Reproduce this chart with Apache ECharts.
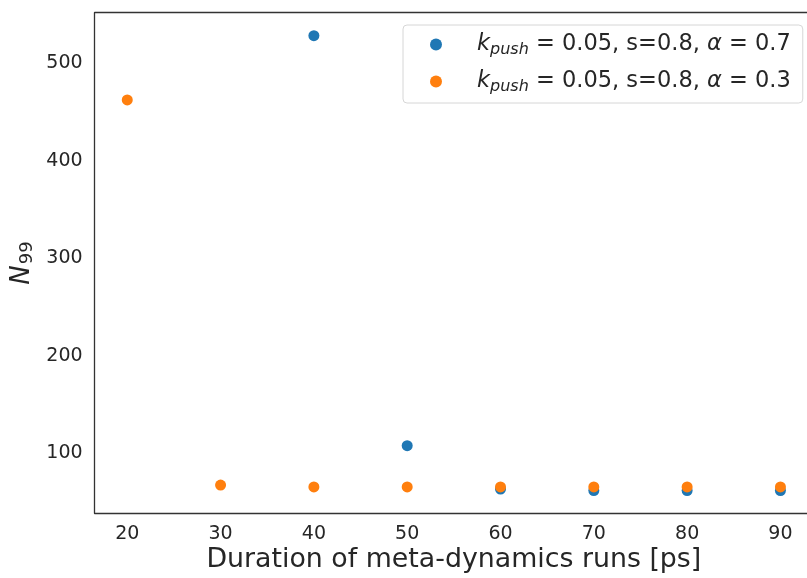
<!DOCTYPE html>
<html>
<head>
<meta charset="utf-8">
<script src="https://cdn.jsdelivr.net/npm/echarts@6/dist/echarts.min.js"></script>
<style>
  html, body { margin: 0; padding: 0; background: #fff; }
  #chart { width: 807px; height: 578px; }
</style>
</head>
<body>
<div id="chart"></div>
<script>
const durations = [20, 30, 40, 50, 60, 70, 80, 90];

// alpha = 0.7 run has no points at 20 and 30 ps
const blueDurations = [40, 50, 60, 70, 80, 90];
const blueN99 = [528.3, 107.8, 63.4, 61.8, 61.8, 61.8];

const orangeN99 = [462.4, 67.5, 65.6, 65.6, 65.6, 65.6, 65.6, 65.6];

const xTicks = [20, 30, 40, 50, 60, 70, 80, 90];
const yTicks = [100, 200, 300, 400, 500];

const seriesNames = ["alpha07", "alpha03"];
const alphaLabels = { alpha07: "0.7", alpha03: "0.3" };

const textColor = "#262626";
const font = "DejaVu Sans";
const spine = { show: true, lineStyle: { color: "#333", width: 1.3 } };

const chart = echarts.init(document.getElementById("chart"), null, { renderer: "canvas" });

chart.setOption({
  animation: false,
  textStyle: { fontFamily: font, color: textColor },
  grid: {
    left: 94.6,
    top: 12.7,
    width: 718.5,
    height: 500.6,
    outerBoundsMode: "none",
    containLabel: false,
  },
  xAxis: [
    {
      type: "value",
      min: 16.5,
      max: 93.5,
      name: "Duration of meta-dynamics runs [ps]",
      nameLocation: "middle",
      nameGap: 33,
      nameMoveOverlap: false,
      nameTextStyle: { fontSize: 26.8, color: textColor, fontFamily: font },
      axisLine: spine,
      axisTick: { show: false },
      splitLine: { show: false },
      axisLabel: {
        customValues: xTicks,
        fontSize: 19,
        color: textColor,
        margin: 11,
      },
    },
    {
      // top spine only
      type: "value",
      position: "top",
      min: 16.5,
      max: 93.5,
      axisLine: spine,
      axisTick: { show: false },
      axisLabel: { show: false },
      splitLine: { show: false },
    },
  ],
  yAxis: {
    type: "value",
    min: 38.5,
    max: 551.9,
    name: "{i|N}{s|99}",
    nameLocation: "middle",
    nameGap: 58,
    nameMoveOverlap: false,
    nameRotate: 90,
    nameTextStyle: {
      color: textColor,
      fontFamily: font,
      rich: {
        i: { fontSize: 26, fontStyle: "italic", color: textColor, fontFamily: font },
        s: { fontSize: 18, color: textColor, fontFamily: font, padding: [10, 0, 0, 1] },
      },
    },
    axisLine: spine,
    axisTick: { show: false },
    splitLine: { show: false },
    axisLabel: {
      customValues: yTicks,
      fontSize: 19,
      color: textColor,
      margin: 12,
    },
  },
  legend: {
    orient: "vertical",
    left: 403,
    top: 25,
    data: seriesNames,
    icon: "circle",
    itemWidth: 12,
    itemHeight: 12,
    itemGap: 12,
    padding: [8, 12, 8, 27],
    borderColor: "#d6d6d6",
    borderWidth: 1,
    borderRadius: 4,
    backgroundColor: "#fff",
    formatter: (name) =>
      "{i|k}{s|push}{n| = 0.05, s=0.8, }{i|α}{n| = " + alphaLabels[name] + "}",
    textStyle: {
      padding: [0, 0, 0, 30],
      color: textColor,
      rich: {
        i: { fontSize: 22.5, fontStyle: "italic", color: textColor, fontFamily: font },
        s: { fontSize: 16, fontStyle: "italic", color: textColor, fontFamily: font, padding: [11, 0, 0, 0] },
        n: { fontSize: 22.5, color: textColor, fontFamily: font },
      },
    },
  },
  series: [
    {
      name: seriesNames[0],
      type: "scatter",
      symbol: "circle",
      symbolSize: 11,
      itemStyle: { color: "#1f77b4", opacity: 1 },
      data: blueDurations.map((d, i) => [d, blueN99[i]]),
    },
    {
      name: seriesNames[1],
      type: "scatter",
      symbol: "circle",
      symbolSize: 11,
      itemStyle: { color: "#ff7f0e", opacity: 1 },
      data: durations.map((d, i) => [d, orangeN99[i]]),
    },
  ],
});
</script>
</body>
</html>
